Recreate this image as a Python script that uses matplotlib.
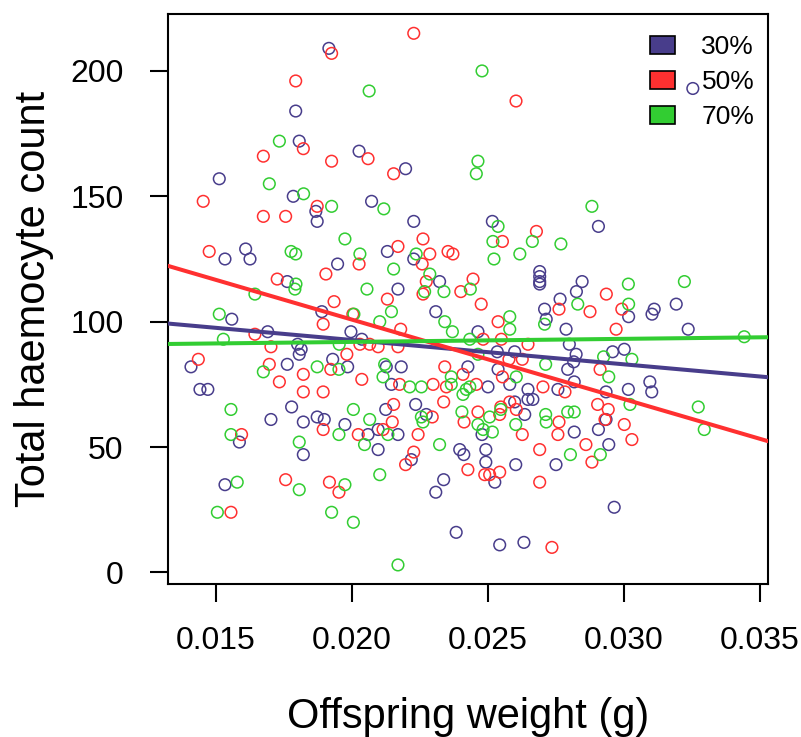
""" Haemocyte count against offspring weight for three treatment levels """

import matplotlib
matplotlib.use("Agg")
import matplotlib.pyplot as plt
from matplotlib.patches import Patch

plt.rcParams['font.family'] = ['Liberation Sans', 'DejaVu Sans']

# treatment groups and their colours
groups = ['30%', '50%', '70%']
colours = ['#483D8B', '#FF3030', '#32CD32']

# offspring weight (g) and haemocyte count, one pair of lists per group
weight_30 = [0.01915, 0.01793, 0.01806, 0.02026, 0.01512, 0.01784, 0.02072, 0.02197, 0.03253, 0.02906,
             0.02846, 0.02825, 0.03017, 0.03111, 0.03103, 0.03192, 0.02765, 0.02787, 0.03236, 0.02799,
             0.02824, 0.02815, 0.02958, 0.03001, 0.02793, 0.02817, 0.02934, 0.03016, 0.03095, 0.03102,
             0.02934, 0.02817, 0.02906, 0.02944, 0.02964, 0.02750, 0.01778, 0.01702, 0.01821, 0.01872,
             0.01898, 0.01974, 0.01586, 0.01821, 0.01533, 0.02234, 0.02124, 0.02096, 0.02169, 0.02059,
             0.02096, 0.02273, 0.02218, 0.02337, 0.02308, 0.02396, 0.02411, 0.02492, 0.02492, 0.02525,
             0.02602, 0.02383, 0.02543, 0.02632, 0.02478, 0.02598, 0.02635, 0.02647, 0.02665, 0.01867,
             0.01872, 0.01533, 0.01609, 0.01625, 0.01947, 0.01762, 0.01889, 0.01558, 0.01996, 0.01690,
             0.01800, 0.01813, 0.01806, 0.02036, 0.01408, 0.01762, 0.01929, 0.01984, 0.01441, 0.01470,
             0.02227, 0.02516, 0.02130, 0.02227, 0.02690, 0.02690, 0.02690, 0.02690, 0.02322, 0.02169,
             0.02308, 0.02708, 0.02714, 0.02463, 0.02534, 0.02598, 0.02126, 0.02181, 0.02426, 0.02537,
             0.02580, 0.02145, 0.02647, 0.02500, 0.02757]
count_30 = [209, 184, 172, 168, 157, 150, 148, 161, 193, 138,
            116, 112, 102, 105, 103, 107, 109, 97, 97, 91,
            87, 84, 88, 89, 81, 76, 72, 73, 76, 72,
            61, 56, 57, 51, 26, 43, 66, 61, 60, 62,
            61, 59, 52, 47, 35, 67, 65, 57, 55, 55,
            49, 63, 45, 37, 32, 49, 47, 49, 44, 36,
            43, 16, 11, 12, 55, 68, 63, 69, 69, 144,
            140, 125, 129, 125, 123, 116, 104, 101, 96, 96,
            91, 89, 87, 93, 82, 83, 85, 82, 73, 73,
            140, 140, 128, 125, 120, 118, 116, 115, 116, 113,
            104, 105, 101, 96, 88, 88, 82, 82, 82, 81,
            75, 75, 73, 74, 73]

weight_50 = [0.01925, 0.01793, 0.01821, 0.01674, 0.01925, 0.02059, 0.01453, 0.01872, 0.02227, 0.02603,
             0.02153, 0.02935, 0.02875, 0.02992, 0.02761, 0.02971, 0.02912, 0.02783, 0.02903, 0.02942,
             0.02761, 0.02930, 0.03001, 0.03029, 0.02860, 0.02882, 0.01894, 0.01894, 0.01821, 0.02023,
             0.01594, 0.01756, 0.01917, 0.01952, 0.01555, 0.02153, 0.02337, 0.02148, 0.02114, 0.02295,
             0.02243, 0.02227, 0.02197, 0.02426, 0.02488, 0.02506, 0.02543, 0.02690, 0.02690, 0.02735,
             0.02412, 0.02463, 0.02547, 0.02543, 0.02580, 0.02604, 0.02626, 0.02757, 0.01674, 0.01756,
             0.01475, 0.02026, 0.01904, 0.01725, 0.01934, 0.02003, 0.01894, 0.01643, 0.01702, 0.02029,
             0.01981, 0.01435, 0.01696, 0.01922, 0.01733, 0.01821, 0.02036, 0.02678, 0.02261, 0.02169,
             0.02286, 0.02258, 0.02353, 0.02371, 0.02553, 0.02273, 0.02445, 0.02400, 0.02261, 0.02130,
             0.02475, 0.02537, 0.02179, 0.02065, 0.02096, 0.02169, 0.02482, 0.02549, 0.02647, 0.02577,
             0.02626, 0.02341, 0.02175, 0.02298, 0.02347, 0.02408, 0.02457, 0.02553, 0.02702]
count_50 = [207, 196, 169, 166, 164, 165, 148, 146, 215, 188,
            159, 111, 104, 105, 105, 97, 81, 72, 67, 65,
            60, 61, 59, 53, 51, 44, 57, 72, 72, 55,
            55, 37, 36, 32, 24, 67, 68, 60, 57, 62,
            55, 48, 43, 41, 39, 39, 40, 49, 36, 10,
            60, 64, 66, 63, 68, 65, 55, 55, 142, 142,
            128, 123, 119, 117, 108, 103, 99, 95, 90, 91,
            87, 85, 83, 81, 76, 79, 77, 136, 133, 130,
            127, 123, 128, 127, 132, 116, 117, 112, 111, 109,
            107, 100, 97, 91, 90, 90, 93, 93, 91, 85,
            85, 82, 75, 75, 74, 79, 75, 78, 74]

weight_70 = [0.01733, 0.01696, 0.01822, 0.01925, 0.02063, 0.02478, 0.02463, 0.02457, 0.02117, 0.02882,
             0.02768, 0.03016, 0.03222, 0.02830, 0.03017, 0.03442, 0.02925, 0.03029, 0.02944, 0.03022,
             0.03273, 0.02793, 0.02817, 0.03295, 0.02913, 0.02803, 0.01555, 0.02005, 0.01952, 0.02046,
             0.01555, 0.01806, 0.01578, 0.01806, 0.01974, 0.01505, 0.01925, 0.02005, 0.02169, 0.02065,
             0.02132, 0.02255, 0.02261, 0.02322, 0.02102, 0.02404, 0.02463, 0.02482, 0.02516, 0.02506,
             0.02547, 0.02602, 0.02712, 0.02714, 0.02408, 0.01974, 0.01776, 0.01793, 0.02029, 0.01794,
             0.01790, 0.01643, 0.02055, 0.01512, 0.02007, 0.01527, 0.01953, 0.01872, 0.01952, 0.01674,
             0.02537, 0.02236, 0.02518, 0.02663, 0.02617, 0.02522, 0.02153, 0.02286, 0.02435, 0.02267,
             0.02338, 0.02145, 0.02708, 0.02580, 0.02580, 0.02341, 0.02369, 0.02102, 0.02433, 0.02463,
             0.02712, 0.02120, 0.02114, 0.02212, 0.02255, 0.02365, 0.02365, 0.02604, 0.02420, 0.02433]
count_70 = [172, 155, 151, 146, 192, 200, 164, 159, 145, 146,
            131, 115, 116, 107, 107, 94, 86, 85, 78, 67,
            66, 64, 64, 57, 47, 47, 65, 65, 55, 51,
            55, 52, 36, 33, 35, 24, 24, 20, 3, 61,
            55, 62, 60, 51, 39, 64, 59, 57, 56, 62,
            65, 59, 63, 60, 71, 133, 128, 127, 127, 115,
            113, 111, 113, 103, 103, 93, 91, 82, 81, 80,
            138, 127, 132, 132, 127, 125, 121, 119, 113, 112,
            112, 104, 99, 102, 97, 100, 96, 100, 93, 87,
            83, 83, 78, 74, 74, 78, 75, 78, 73, 74]

# fitted lines for each group: intercept and slope
intercepts = [112.1, 164.2, 89.5]
slopes = [-970.0, -3169.0, 122.0]

weights = [weight_30, weight_50, weight_70]
counts = [count_30, count_50, count_70]

fig = plt.figure(figsize=(8.01, 7.37), dpi=100)
ax = fig.add_axes([168 / 801, 1 - 584 / 737, 600 / 801, 570 / 737])

for w, c, col in zip(weights, counts, colours):
    ax.scatter(w, c, s=70, facecolors='none', edgecolors=col, linewidths=1.1, zorder=2)

for a, b, col in zip(intercepts, slopes, colours):
    ax.axline((0.0, a), slope=b, color=col, linewidth=2.9, zorder=3)

ax.set_xlim(0.013235, 0.035294)
ax.set_ylim(-4.6, 222.7)
ax.set_xticks([0.015, 0.020, 0.025, 0.030, 0.035])
ax.set_xticklabels(['0.015', '0.020', '0.025', '0.030', '0.035'])
ax.set_yticks([0, 50, 100, 150, 200])

for side in ax.spines.values():
    side.set_linewidth(1.5)
ax.tick_params(direction='out', length=13, width=1.5, labelsize=23)
ax.tick_params(axis='x', pad=17)
ax.tick_params(axis='y', pad=19)

ax.set_xlabel('Offspring weight (g)', fontsize=30, labelpad=30)
ax.set_ylabel('Total haemocyte count', fontsize=30, labelpad=12)

handles = [Patch(facecolor=col, edgecolor='black', linewidth=1.2) for col in colours]
ax.legend(handles, groups, loc='upper left', bbox_to_anchor=(650 / 801, 1 - 35 / 737),
          bbox_transform=fig.transFigure, frameon=False, fontsize=19,
          handlelength=0.95, handleheight=0.7, handletextpad=1.0,
          labelspacing=0.42, borderpad=0, borderaxespad=0)

fig.savefig('out.png', dpi=100)
